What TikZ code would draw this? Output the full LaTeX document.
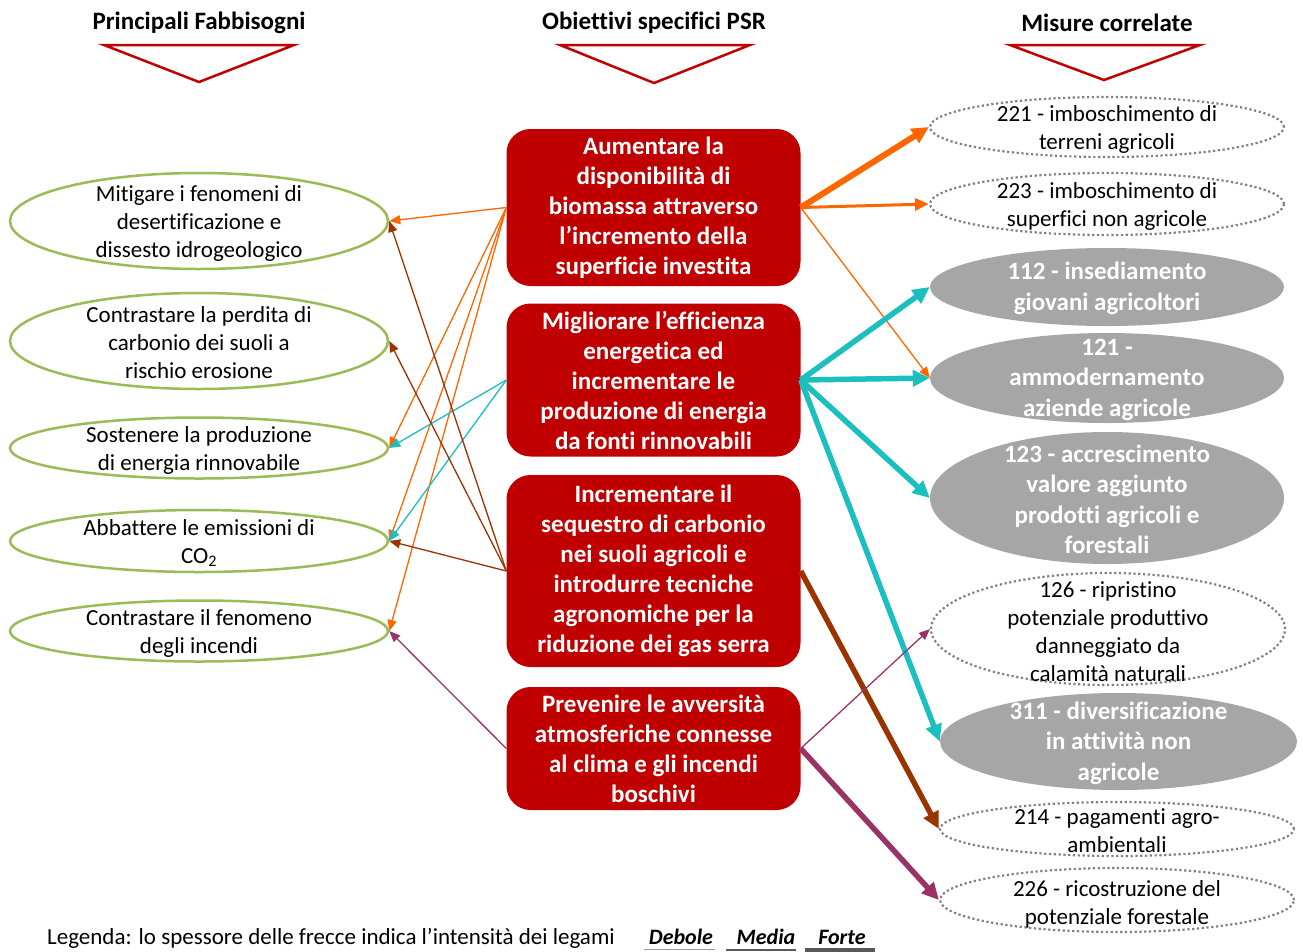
\documentclass[tikz,border=0pt]{standalone}
\usepackage{fontspec}
\setmainfont{Carlito}[Ligatures=NoCommon]
\usetikzlibrary{arrows.meta,shapes.geometric}
\definecolor{boxred}{HTML}{C00000}
\definecolor{needgreen}{HTML}{9BBB59}
\definecolor{measgray}{HTML}{A6A6A6}
\definecolor{dotgray}{HTML}{808080}
\definecolor{lnkorange}{HTML}{FF6600}
\definecolor{lnkteal}{HTML}{1CBFBF}
\definecolor{lnkbrown}{HTML}{993300}
\definecolor{lnkpurple}{HTML}{993366}
\tikzset{
  header/.style={font=\fontsize{25}{30}\selectfont\bfseries, text=black},
  headtri/.style={draw=boxred, line width=2.5pt, fill=white, line join=miter},
  objbox/.style={rectangle, rounded corners=24pt, fill=boxred, draw=none,
    minimum width=294pt, inner sep=0pt, text=white, align=center,
    font=\fontsize{25}{30}\selectfont\bfseries},
  needell/.style={ellipse, draw=needgreen, line width=2.5pt, fill=white,
    minimum width=378pt, inner sep=0pt},
  dotell/.style={ellipse, draw=dotgray, line width=2.2pt,
    dash pattern=on 2.2pt off 2.6pt, fill=white, minimum width=354pt, inner sep=0pt},
  grayell/.style={ellipse, fill=measgray, draw=none, minimum width=354pt, inner sep=0pt},
  plaintxt/.style={align=center, text=black, inner sep=0pt, yshift=-2pt,
    font=\fontsize{23}{28}\selectfont},
  boldtxt/.style={align=center, text=white, inner sep=0pt, yshift=-1.5pt,
    font=\fontsize{25}{30.5}\selectfont\bfseries},
  legtxt/.style={inner sep=0pt, font=\fontsize{23}{28}\selectfont},
  legkey/.style={anchor=base, inner sep=0pt, font=\fontsize{22}{26}\selectfont\bfseries\itshape},
  weak/.style={line width=1.3pt, -{Triangle[length=11pt,width=9pt]}},
  medium/.style={line width=3pt, -{Triangle[length=14pt,width=12pt]}},
  strong/.style={line width=5.5pt, -{Triangle[length=17pt,width=16pt]}},
}
\begin{document}
\begin{tikzpicture}[x=1pt,y=-1pt]
\useasboundingbox (0,0) rectangle (1303,951);

% column headings with their downward triangles
\node[header] (h1) at (199,23) {Principali Fabbisogni};
\node[header] (h2) at (654,23) {Obiettivi specifici PSR};
\node[header] (h3) at (1107,23) {Misure correlate};
\draw[headtri] (104,45) -- (294,45) -- (199,82) -- cycle;
\draw[headtri] (560,45) -- (750,45) -- (654,83) -- cycle;
\draw[headtri] (1010,45) -- (1200,45) -- (1104,80) -- cycle;

% needs (left column)
\node[needell, minimum height=96pt] (f1) at (199,221) {};
\node[plaintxt] at (f1) {Mitigare i fenomeni di\\desertificazione e\\dissesto idrogeologico};
\node[needell, minimum height=96pt] (f2) at (199,341) {};
\node[plaintxt] at (f2) {Contrastare la perdita di\\carbonio dei suoli a\\rischio erosione};
\node[needell, minimum height=61pt] (f3) at (199,448) {};
\node[plaintxt] at (f3) {Sostenere la produzione\\di energia rinnovabile};
\node[needell, minimum height=62pt] (f4) at (199,541) {};
\node[plaintxt] at (f4) {Abbattere le emissioni di\\CO\textsubscript{2}};
\node[needell, minimum height=61pt] (f5) at (199,631) {};
\node[plaintxt] at (f5) {Contrastare il fenomeno\\degli incendi};

% objectives (middle column)
\node[objbox, minimum height=157pt] (o1) at (653.5,207.5)
  {Aumentare la\\disponibilità di\\biomassa attraverso\\l’incremento della\\superficie investita};
\node[objbox, minimum height=153pt] (o2) at (653.5,380)
  {Migliorare l’efficienza\\energetica ed\\incrementare le\\produzione di energia\\da fonti rinnovabili};
\node[objbox, minimum height=192pt] (o3) at (653.5,571)
  {Incrementare il\\sequestro di carbonio\\nei suoli agricoli e\\introdurre tecniche\\agronomiche per la\\riduzione dei gas serra};
\node[objbox, minimum height=123pt] (o4) at (653.5,748.5)
  {Prevenire le avversità\\atmosferiche connesse\\al clima e gli incendi\\boschivi};

% measures (right column)
\node[dotell, minimum height=60pt] (m221) at (1107,127) {};
\node[plaintxt] at (m221) {221 - imboschimento di\\terreni agricoli};
\node[dotell, minimum height=62pt] (m223) at (1107,204) {};
\node[plaintxt] at (m223) {223 - imboschimento di\\superfici non agricole};
\node[grayell, minimum height=78pt] (m112) at (1107,287) {};
\node[boldtxt] at (m112) {112 - insediamento\\giovani agricoltori};
\node[grayell, minimum height=90pt] (m121) at (1107,378) {};
\node[boldtxt] at (m121) {121 -\\ammodernamento\\aziende agricole};
\node[grayell, minimum height=132pt] (m123) at (1107,498) {};
\node[boldtxt] at (m123) {123 - accrescimento\\valore aggiunto\\prodotti agricoli e\\forestali};
\node[dotell, minimum height=112pt] (m126) at (1108,629) {};
\node[plaintxt] at ([yshift=-1pt]m126) {126 - ripristino\\potenziale produttivo\\danneggiato da\\calamità naturali};
\node[grayell, minimum width=357pt, minimum height=97pt] (m311) at (1118.5,741.5) {};
\node[boldtxt] at (m311) {311 - diversificazione\\in attività non\\agricole};
\node[dotell, minimum height=54pt] (m214) at (1117,829) {};
\node[plaintxt] at (m214) {214 - pagamenti agro-\\ambientali};
\node[dotell, minimum height=64pt] (m226) at (1117,900) {};
\node[plaintxt] at ([yshift=-2pt]m226) {226 - ricostruzione del\\potenziale forestale};

% links from objectives to needs
\draw[weak, lnkorange] (o1.west) -- (f1.east);
\draw[weak, lnkorange] (o1.west) -- (f3.east);
\draw[weak, lnkorange] (o1.west) -- (f4.east);
\draw[weak, lnkorange] (o1.west) -- (f5.east);
\draw[weak, lnkteal] (o2.west) -- (f3.east);
\draw[weak, lnkteal] (o2.west) -- (f4.east);
\draw[weak, lnkbrown] (o3.west) -- (f1.east);
\draw[weak, lnkbrown] (o3.west) -- (f2.east);
\draw[weak, lnkbrown] (o3.west) -- (f4.east);
\draw[weak, lnkpurple] (o4.west) -- (f5.east);

% links from objectives to measures
\draw[strong, lnkorange, line width=6pt] (o1.east) -- (m221.west);
\draw[medium, lnkorange] (o1.east) -- (m223.west);
\draw[weak, lnkorange] (o1.east) -- (m121.west);
\draw[strong, lnkteal] (o2.east) -- (m112.west);
\draw[strong, lnkteal] (o2.east) -- (m121.west);
\draw[strong, lnkteal] (o2.east) -- (m123.west);
\draw[strong, lnkteal] (o2.east) -- (m311.west);
\draw[strong, lnkbrown] (o3.east) -- (m214.west);
\draw[weak, lnkpurple] (o4.east) -- (m126.west);
\draw[strong, lnkpurple] (o4.east) -- (m226.west);

% legend
\node[legtxt, anchor=base west] (leg) at (47,944)
  {Legenda: lo spessore delle frecce indica l’intensità dei legami};
\node[legkey] (lw) at (681,944) {Debole};
\node[legkey] (lm) at (766,944) {Media};
\node[legkey] (ls) at (842,944) {Forte};
\draw[line width=1.5pt, color=black!40] (644,949.5) -- (715,949.5);
\draw[line width=2.5pt, color=black!65] (726,950) -- (796,950);
\draw[line width=3.5pt, color=black!65] (805,950) -- (875,950);
\end{tikzpicture}
\end{document}
